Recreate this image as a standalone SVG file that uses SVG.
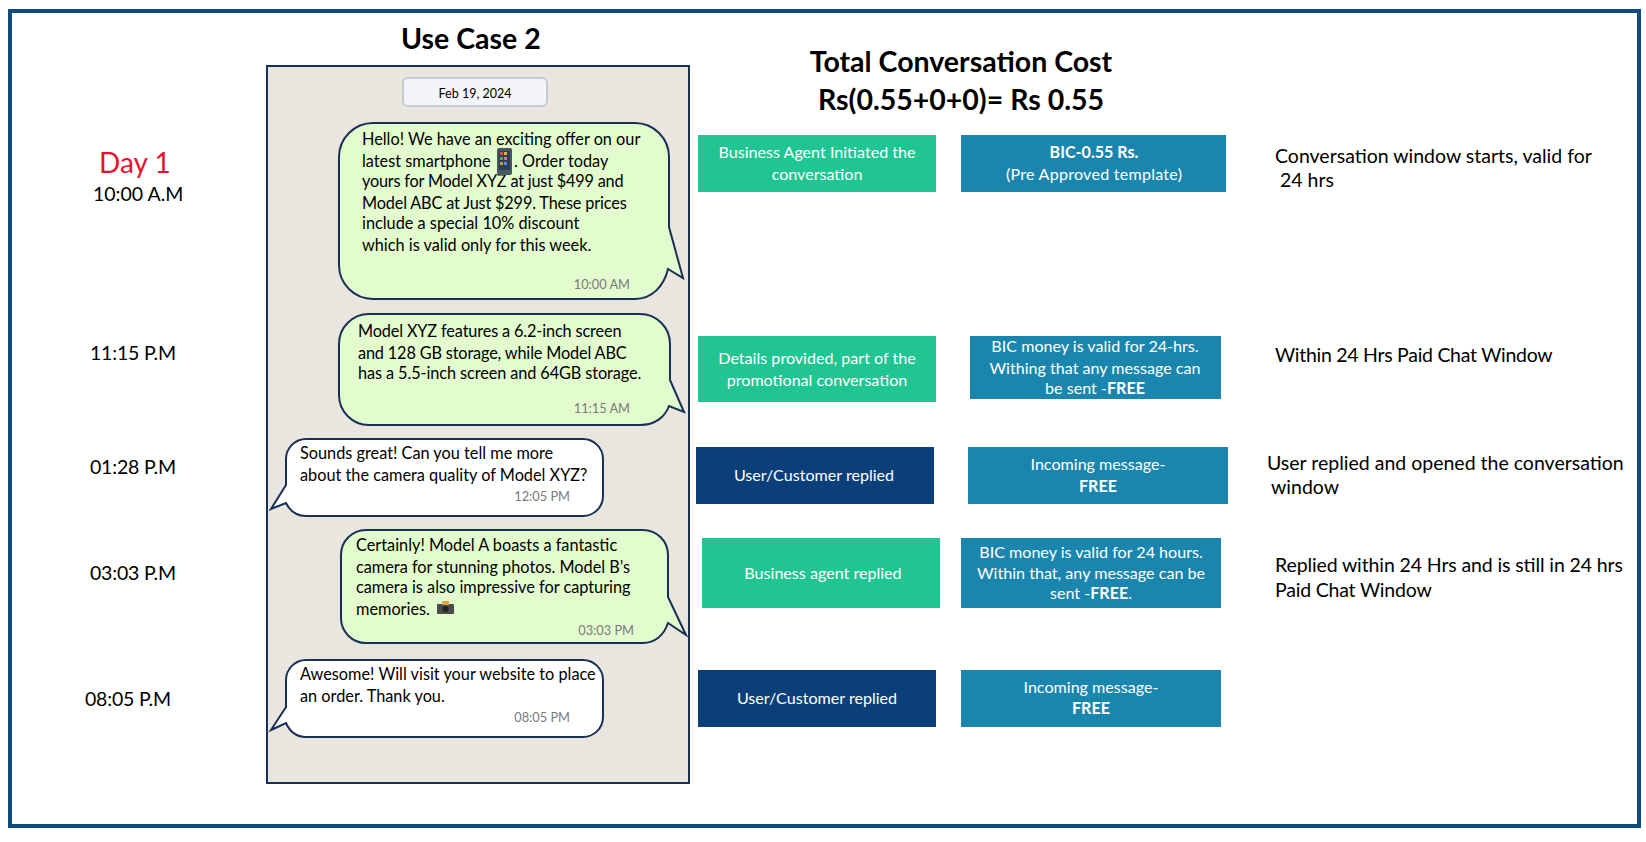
<svg xmlns="http://www.w3.org/2000/svg" width="1646" height="842" viewBox="0 0 1646 842">
<style>
text{font-family:Lato,"Open Sans","Liberation Sans",sans-serif;fill:#000}
.title{font-size:28.500px;font-weight:700}
.side{font-size:19.500px}
.day{font-size:28px;fill:#e8112d}
.chat{font-size:16.300px}
.stamp{font-size:12.800px;fill:#7a7a7a;text-anchor:end}
.box{font-size:16.100px;fill:#fff;text-anchor:middle}
.b{font-weight:700}
.green{fill:#20c591}.blue{fill:#1a86ae}.navy{fill:#0a3f7a}
.bub{stroke:#1a2f55;stroke-width:2}
.out{fill:#e3fcce}.inc{fill:#fff}
</style>
<rect id="frame" x="10" y="11" width="1629" height="815" fill="#fff" stroke="#0f4a80" stroke-width="4"/>
<text class="title" x="401" y="49">Use Case 2</text>
<g id="cost" text-anchor="middle"><text class="title" x="961" y="72">Total Conversation Cost</text><text class="title" x="961" y="110">Rs(0.55+0+0)= Rs 0.55</text></g>
<g id="phone-panel"><rect x="267" y="66" width="422" height="717" fill="#e8e6df" stroke="#1a2f55" stroke-width="2"/>
<rect x="403" y="78" width="144" height="28" rx="5" fill="#f4f5f8" stroke="#c3ccd3" stroke-width="2"/>
<text x="475" y="98" font-size="12.500" text-anchor="middle">Feb 19, 2024</text></g>
<g id="msg1"><path class="bub out" d="M373 123H635A34 34 0 0 1 669 157V227L683 278L668 269C664 286 652 299 635 299H373A34 34 0 0 1 339 265V157A34 34 0 0 1 373 123Z"/>
<text class="chat" x="362" y="145">Hello! We have an exciting offer on our</text>
<text class="chat" x="362" y="167">latest smartphone</text><text class="chat" x="514" y="167">. Order today</text>
<text class="chat" x="362" y="187" textLength="261.600">yours for Model XYZ at just $499 and</text>
<text class="chat" x="362" y="209" textLength="264.700">Model ABC at Just $299. These prices</text>
<text class="chat" x="362" y="229">include a special 10% discount</text>
<text class="chat" x="362" y="251">which is valid only for this week.</text>
<text class="stamp" x="630" y="289">10:00 AM</text>
<rect x="497" y="148" width="15" height="27" rx="2" fill="#47565f"/><rect x="499" y="151" width="11" height="19" fill="#2d3f55"/><rect x="500" y="152" width="3" height="3" fill="#d6504a"/><rect x="504" y="152" width="3" height="3" fill="#e0b040"/><rect x="500" y="157" width="3" height="3" fill="#55a860"/><rect x="504" y="157" width="3" height="3" fill="#d66aa0"/><rect x="500" y="162" width="3" height="3" fill="#e08a3c"/><rect x="504" y="162" width="3" height="3" fill="#5a8fd6"/></g>
<g id="msg2"><path class="bub out" d="M369 314H640A30 30 0 0 1 670 344V380L684 412L669 406C665 417 655 425 640 425H369A30 30 0 0 1 339 395V344A30 30 0 0 1 369 314Z"/>
<text class="chat" x="358" y="337" textLength="263.500">Model XYZ features a 6.2-inch screen</text>
<text class="chat" x="358" y="359" textLength="268.700">and 128 GB storage, while Model ABC</text>
<text class="chat" x="358" y="379" textLength="283.400">has a 5.5-inch screen and 64GB storage.</text>
<text class="stamp" x="630" y="413">11:15 AM</text></g>
<g id="msg3"><path class="bub inc" d="M306 439H583A20 20 0 0 1 603 459V496A20 20 0 0 1 583 516H306C297 516 290 511 286 503L271 509L286 485V459A20 20 0 0 1 306 439Z"/>
<text class="chat" x="300" y="459">Sounds great! Can you tell me more</text>
<text class="chat" x="300" y="481">about the camera quality of Model XYZ?</text>
<text class="stamp" x="570" y="501">12:05 PM</text></g>
<g id="msg4"><path class="bub out" d="M366 530H643A25 25 0 0 1 668 555V597L686 635L668 623C664 635 655 643 643 643H366A25 25 0 0 1 341 618V555A25 25 0 0 1 366 530Z"/>
<text class="chat" x="356" y="551">Certainly! Model A boasts a fantastic</text>
<text class="chat" x="356" y="573">camera for stunning photos. Model B’s</text>
<text class="chat" x="356" y="593">camera is also impressive for capturing</text>
<text class="chat" x="356" y="615">memories.</text>
<text class="stamp" x="634" y="635">03:03 PM</text>
<rect x="437" y="604" width="17" height="10" rx="1" fill="#4b4b4b"/><rect x="442" y="601" width="7" height="4" fill="#d9a441"/><circle cx="445.500" cy="609" r="3" fill="#222"/></g>
<g id="msg5"><path class="bub inc" d="M306 660H583A20 20 0 0 1 603 680V717A20 20 0 0 1 583 737H306C297 737 290 732 286 723L271 730L286 707V680A20 20 0 0 1 306 660Z"/>
<text class="chat" x="300" y="680">Awesome! Will visit your website to place</text>
<text class="chat" x="300" y="702">an order. Thank you.</text>
<text class="stamp" x="570" y="722">08:05 PM</text></g>
<g id="times"><text class="day" x="99" y="173">Day 1</text>
<text class="side" x="93" y="201">10:00 A.M</text>
<text class="side" x="90" y="360" textLength="86">11:15 P.M</text>
<text class="side" x="90" y="474" textLength="86">01:28 P.M</text>
<text class="side" x="90" y="580" textLength="86">03:03 P.M</text>
<text class="side" x="85" y="706" textLength="86">08:05 P.M</text></g>
<g id="r1a"><rect class="green" x="698" y="135" width="238" height="57"/><text class="box" x="817" y="158">Business Agent Initiated the</text><text class="box" x="817" y="180">conversation</text></g>
<g id="r1b"><rect class="blue" x="961" y="135" width="265" height="57"/><text class="box b" x="1094" y="158">BIC-0.55 Rs.</text><text class="box" x="1094" y="180" textLength="176">(Pre Approved template)</text></g>
<g id="r2a"><rect class="green" x="698" y="336" width="238" height="66"/><text class="box" x="817" y="364">Details provided, part of the</text><text class="box" x="817" y="386">promotional conversation</text></g>
<g id="r2b"><rect class="blue" x="970" y="336" width="251" height="63"/><text class="box" x="1095" y="352">BIC money is valid for 24-hrs.</text><text class="box" x="1095" y="374">Withing that any message can</text><text class="box" x="1095" y="394">be sent -<tspan class="b">FREE</tspan></text></g>
<g id="r3a"><rect class="navy" x="696" y="447" width="238" height="57"/><text class="box" x="814" y="481">User/Customer replied</text></g>
<g id="r3b"><rect class="blue" x="968" y="447" width="260" height="57"/><text class="box" x="1098" y="470">Incoming message-</text><text class="box b" x="1098" y="492">FREE</text></g>
<g id="r4a"><rect class="green" x="702" y="538" width="238" height="70"/><text class="box" x="823" y="579">Business agent replied</text></g>
<g id="r4b"><rect class="blue" x="961" y="538" width="260" height="70"/><text class="box" x="1091" y="558">BIC money is valid for 24 hours.</text><text class="box" x="1091" y="579">Within that, any message can be</text><text class="box" x="1091" y="599">sent -<tspan class="b">FREE</tspan>.</text></g>
<g id="r5a"><rect class="navy" x="698" y="670" width="238" height="57"/><text class="box" x="817" y="704">User/Customer replied</text></g>
<g id="r5b"><rect class="blue" x="961" y="670" width="260" height="57"/><text class="box" x="1091" y="693">Incoming message-</text><text class="box b" x="1091" y="714">FREE</text></g>
<g id="notes"><text class="side" x="1275" y="163">Conversation window starts, valid for</text><text class="side" x="1280" y="187">24 hrs</text>
<text class="side" x="1275" y="362" textLength="277.600">Within 24 Hrs Paid Chat Window</text>
<text class="side" x="1267" y="470">User replied and opened the conversation</text><text class="side" x="1271" y="494">window</text>
<text class="side" x="1275" y="572" textLength="347.900">Replied within 24 Hrs and is still in 24 hrs</text><text class="side" x="1275" y="597" textLength="156.800">Paid Chat Window</text></g>
<g id="connectors"/>
</svg>
